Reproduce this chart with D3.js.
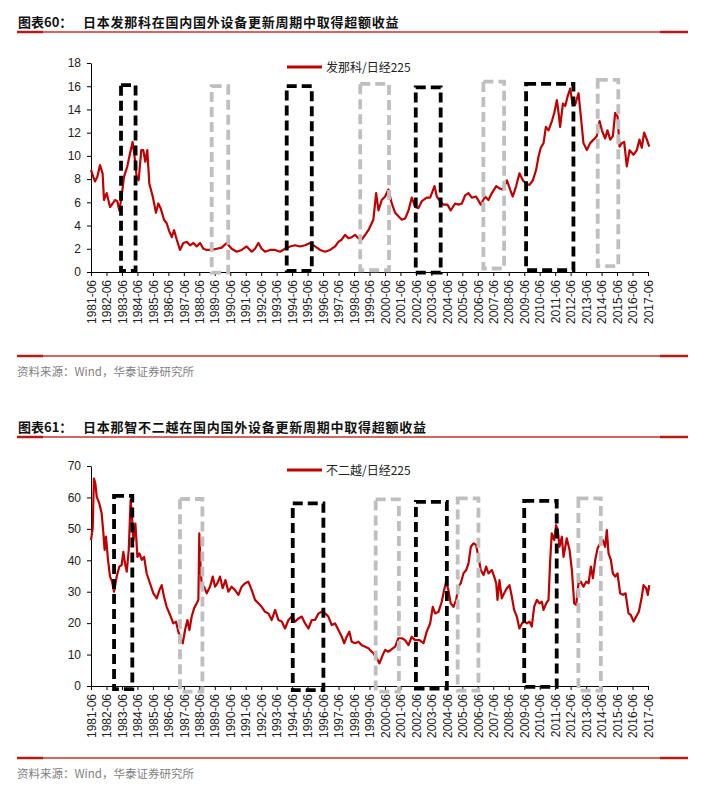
<!DOCTYPE html>
<html><head><meta charset="utf-8">
<script src="https://cdn.jsdelivr.net/npm/d3@7/dist/d3.min.js"></script>
<style>body{margin:0;background:#fff}svg{display:block}</style>
</head><body><svg id="c" width="716" height="796"></svg>
<script>
// ---------- DATA ----------
const tickLabels = ["1981-06","1982-06","1983-06","1984-06","1985-06","1986-06","1987-06","1988-06","1989-06","1990-06","1991-06","1992-06","1993-06","1994-06","1995-06","1996-06","1997-06","1998-06","1999-06","2000-06","2001-06","2002-06","2003-06","2004-06","2005-06","2006-06","2007-06","2008-06","2009-06","2010-06","2011-06","2012-06","2013-06","2014-06","2015-06","2016-06","2017-06"];

const fanucYears = [1981.50,1981.65,1981.76,1981.91,1982.08,1982.25,1982.34,1982.51,1982.73,1982.90,1983.05,1983.20,1983.33,1983.48,1983.63,1983.85,1984.02,1984.19,1984.32,1984.45,1984.58,1984.75,1984.88,1985.01,1985.14,1985.27,1985.49,1985.70,1985.85,1986.00,1986.22,1986.39,1986.56,1986.72,1986.87,1987.04,1987.25,1987.47,1987.69,1987.90,1988.12,1988.33,1988.55,1988.76,1988.98,1989.30,1989.63,1989.95,1990.27,1990.59,1990.92,1991.24,1991.56,1991.89,1992.10,1992.32,1992.53,1992.75,1993.07,1993.40,1993.72,1994.04,1994.37,1994.69,1995.01,1995.34,1995.66,1995.98,1996.31,1996.63,1996.95,1997.28,1997.49,1997.71,1997.92,1998.14,1998.35,1998.57,1998.78,1999.00,1999.22,1999.43,1999.75,1999.93,2000.08,2000.29,2000.51,2000.72,2000.94,2001.16,2001.37,2001.59,2001.80,2002.02,2002.23,2002.45,2002.66,2002.88,2003.20,2003.42,2003.70,2003.85,2004.06,2004.28,2004.54,2004.75,2005.03,2005.25,2005.47,2005.68,2005.90,2006.11,2006.39,2006.69,2006.97,2007.19,2007.41,2007.69,2007.90,2008.12,2008.38,2008.59,2008.76,2008.98,2009.19,2009.41,2009.63,2009.84,2010.06,2010.27,2010.42,2010.57,2010.75,2010.90,2011.07,2011.29,2011.44,2011.61,2011.72,2011.82,2012.00,2012.15,2012.30,2012.47,2012.62,2012.79,2013.01,2013.16,2013.33,2013.55,2013.76,2013.98,2014.19,2014.37,2014.52,2014.73,2014.88,2015.06,2015.23,2015.38,2015.53,2015.66,2015.81,2015.96,2016.13,2016.31,2016.56,2016.78,2016.95,2017.10,2017.25,2017.43,2017.58];
const fanucRatio = [8.8,8.2,7.8,8.2,9.2,8.5,6.2,6.8,5.6,5.9,6.2,6.1,5.3,6.5,8.2,9.1,10.2,11.2,9.9,8.2,7.9,10.5,10.5,9.5,10.5,7.6,6.5,5.1,5.9,5.5,4.5,4.2,3.5,3.0,3.6,2.8,1.9,2.5,2.6,2.3,2.5,2.2,2.5,2.0,1.9,1.9,2.0,2.1,2.5,2.0,1.75,1.9,2.2,1.75,2.0,2.5,2.0,1.75,1.9,1.9,1.75,2.0,2.2,2.3,2.2,2.3,2.5,2.2,1.9,1.75,1.9,2.2,2.6,2.8,3.2,2.9,3.0,3.2,2.9,2.8,3.2,3.6,4.5,6.8,5.3,6.2,6.5,7.1,5.9,5.1,4.8,4.5,4.6,5.3,6.4,5.6,5.5,6.1,6.4,6.4,7.4,6.5,6.1,5.8,5.8,5.3,5.9,5.8,5.9,6.6,6.8,6.4,6.5,5.8,6.5,6.2,6.8,7.4,7.2,7.1,7.9,7.1,6.5,7.4,8.5,7.9,7.6,7.5,7.9,8.8,9.9,10.7,11.1,12.5,12.2,13.0,13.7,14.8,13.7,12.5,14.5,14.3,15.1,15.8,14.5,14.4,15.4,13.4,11.1,10.5,11.1,11.4,11.7,13.0,12.2,11.5,12.2,11.4,11.7,13.7,13.4,10.8,11.1,11.2,9.1,10.5,10.1,10.5,11.4,10.7,12.0,11.4,10.8];

const nachiYears = [1981.50,1981.61,1981.69,1981.78,1981.87,1982.04,1982.19,1982.30,1982.38,1982.47,1982.60,1982.73,1982.86,1982.99,1983.16,1983.33,1983.48,1983.59,1983.70,1983.81,1983.94,1984.06,1984.15,1984.24,1984.37,1984.50,1984.63,1984.78,1984.93,1985.10,1985.31,1985.53,1985.75,1985.92,1986.07,1986.22,1986.39,1986.61,1986.82,1986.99,1987.15,1987.30,1987.43,1987.58,1987.73,1987.86,1988.01,1988.16,1988.33,1988.44,1988.50,1988.59,1988.68,1988.81,1988.98,1989.19,1989.37,1989.52,1989.67,1989.84,1990.01,1990.19,1990.38,1990.59,1990.81,1991.03,1991.24,1991.46,1991.67,1991.89,1992.10,1992.32,1992.53,1992.75,1992.97,1993.18,1993.40,1993.61,1993.83,1994.04,1994.26,1994.47,1994.69,1994.91,1995.12,1995.34,1995.55,1995.77,1995.98,1996.20,1996.41,1996.63,1996.84,1997.06,1997.28,1997.49,1997.71,1997.86,1998.03,1998.20,1998.35,1998.57,1998.78,1999.00,1999.22,1999.43,1999.65,1999.75,1999.97,2000.14,2000.36,2000.51,2000.72,2000.94,2001.16,2001.37,2001.59,2001.80,2002.02,2002.23,2002.45,2002.73,2002.99,2003.20,2003.42,2003.59,2003.74,2003.96,2004.17,2004.32,2004.45,2004.60,2004.75,2004.93,2005.10,2005.25,2005.40,2005.57,2005.75,2005.90,2006.05,2006.22,2006.39,2006.54,2006.69,2006.87,2007.04,2007.19,2007.41,2007.56,2007.69,2007.77,2007.90,2008.05,2008.20,2008.38,2008.55,2008.70,2008.85,2009.02,2009.19,2009.35,2009.50,2009.67,2009.84,2009.99,2010.14,2010.32,2010.49,2010.64,2010.75,2010.92,2011.07,2011.18,2011.28,2011.44,2011.56,2011.67,2011.78,2011.93,2012.04,2012.25,2012.43,2012.58,2012.73,2012.86,2013.01,2013.16,2013.33,2013.50,2013.66,2013.81,2013.94,2014.09,2014.24,2014.41,2014.58,2014.73,2014.84,2014.95,2015.10,2015.23,2015.38,2015.53,2015.70,2015.88,2016.05,2016.24,2016.39,2016.57,2016.74,2016.91,2017.10,2017.21,2017.38,2017.49,2017.58];
const nachiRatio = [46.4,50.2,66.0,64.5,60.2,58.1,54.9,48.6,43.3,47.5,40.1,34.8,33.2,30.0,34.8,38.0,38.5,42.7,39.0,36.4,43.3,59.2,53.9,46.4,51.7,41.1,42.2,40.1,41.1,35.8,32.7,29.5,27.9,30.5,32.1,28.4,25.2,22.6,19.9,20.5,17.3,14.6,13.6,17.8,21.0,17.8,22.1,24.7,26.3,27.4,48.6,36.9,30.5,31.6,29.5,31.6,34.8,31.6,32.7,34.8,31.1,33.7,30.0,31.6,30.5,29.0,31.6,32.7,33.2,30.5,27.4,26.3,25.2,23.6,23.1,21.0,24.2,21.0,20.5,18.3,21.0,22.1,20.5,21.5,22.1,19.9,18.3,21.0,21.0,23.1,23.6,23.1,22.1,19.4,19.9,17.8,15.7,13.6,15.7,17.3,14.1,13.6,14.1,13.0,12.5,12.0,10.9,10.4,8.8,7.2,9.9,11.5,10.9,11.7,12.5,15.2,15.2,14.6,13.0,15.7,14.6,14.6,13.6,17.3,19.9,25.2,23.1,23.6,26.8,30.5,33.2,30.5,26.3,25.2,27.4,31.6,32.7,35.8,36.9,39.0,44.3,45.4,44.9,41.1,36.9,35.3,38.0,35.8,36.9,34.8,32.7,27.4,33.7,27.9,29.5,31.1,32.1,28.4,24.2,22.1,18.3,19.9,20.5,19.9,20.5,18.9,25.2,27.4,26.3,26.8,24.2,26.3,27.4,40.1,48.6,46.4,51.2,49.6,44.3,47.5,41.1,47.0,43.3,36.9,26.3,25.8,32.7,33.2,31.6,33.2,32.7,38.0,34.3,40.1,43.8,45.4,46.4,44.3,49.6,42.2,40.1,35.8,34.8,35.8,29.5,29.0,29.5,23.1,22.6,20.5,22.1,23.6,28.4,32.1,31.1,29.0,32.1];

// cycle windows (decimal year from/to, value top/bottom), kind: domestic = black, overseas = gray
const fanucBoxes = [
  {from:1983.44,to:1984.38,top:16.1,bottom:0.1,kind:"domestic"},
  {from:1994.15,to:1995.77,top:16.0,bottom:0.1,kind:"domestic"},
  {from:2002.49,to:2004.10,top:15.9,bottom:-0.05,kind:"domestic"},
  {from:2009.62,to:2012.68,top:16.2,bottom:0.15,kind:"domestic"},
  {from:1989.30,to:1990.37,top:16.0,bottom:-0.05,kind:"overseas"},
  {from:1998.90,to:2000.76,top:16.2,bottom:0.15,kind:"overseas"},
  {from:2006.86,to:2008.20,top:16.4,bottom:0.3,kind:"overseas"},
  {from:2014.25,to:2015.58,top:16.55,bottom:0.5,kind:"overseas"}
];
const nachiBoxes = [
  {from:1982.99,to:1984.17,top:60.5,bottom:-1.0,kind:"domestic"},
  {from:1994.54,to:1996.52,top:58.1,bottom:-1.3,kind:"domestic"},
  {from:2002.50,to:2004.50,top:58.6,bottom:-0.8,kind:"domestic"},
  {from:2009.50,to:2011.60,top:58.9,bottom:-0.3,kind:"domestic"},
  {from:1987.25,to:1988.70,top:59.5,bottom:-1.8,kind:"overseas"},
  {from:1999.90,to:2001.40,top:59.4,bottom:-1.8,kind:"overseas"},
  {from:2005.20,to:2006.54,top:59.7,bottom:-1.5,kind:"overseas"},
  {from:2013.00,to:2014.45,top:59.7,bottom:-1.5,kind:"overseas"}
];

const fanucTicksY = [0,2,4,6,8,10,12,14,16,18];
const nachiTicksY = [0,10,20,30,40,50,60,70];

// ---------- DRAW ----------
const svg = d3.select("#c");
const RED = "#c00000";
const LINE_RED = "#c8322c";
const CJK = "'Noto Sans CJK SC','Noto Sans',sans-serif";
const LAT = "'Liberation Sans',Arial,sans-serif";

function sectionFrame(titleNum, titleText, lineY, srcLineY){
  const t = svg.append("text").attr("y", lineY-5).attr("font-family", CJK)
    .attr("font-weight", 700).attr("font-size", 13).attr("fill", "#111");
  t.append("tspan").attr("x", 18).text(titleNum);
  t.append("tspan").attr("x", 83).attr("letter-spacing", "0.75px").text(titleText);
  [lineY, srcLineY].forEach(y => {
    svg.append("line").attr("x1",17).attr("x2",688).attr("y1",y).attr("y2",y)
      .attr("stroke", LINE_RED).attr("stroke-width",1.5);
    svg.append("line").attr("x1",17).attr("x2",43).attr("y1",y).attr("y2",y)
      .attr("stroke", "#b51a14").attr("stroke-width",2.5);
    svg.append("line").attr("x1",660).attr("x2",688).attr("y1",y).attr("y2",y)
      .attr("stroke", "#b51a14").attr("stroke-width",2.5);
  });
  svg.append("text").attr("x",17).attr("y",srcLineY+20).attr("font-family",CJK)
    .attr("font-size",11.5).attr("fill","#7f7f7f").text("资料来源：Wind，华泰证券研究所");
}

function panel(opts){
  const x = d3.scaleLinear().domain([1981.5, 2017.5]).range([91, 648]);
  const y = d3.scaleLinear().domain([0, opts.ymax]).range([opts.y0, opts.yTop]);
  const g = svg.append("g");

  // y axis
  const ya = g.append("g").attr("transform","translate(91,0)")
    .call(d3.axisLeft(y).tickValues(opts.yticks).tickSize(4).tickSizeOuter(0).tickPadding(6));
  ya.selectAll("text").attr("font-family",LAT).attr("font-size",12).attr("fill","#222");
  ya.selectAll("path,line").attr("stroke","#000");

  // x axis
  const xa = g.append("g").attr("transform",`translate(0,${opts.y0})`)
    .call(d3.axisBottom(x).tickValues(tickLabels.map((d,i)=>1981.5+i))
      .tickFormat((d,i)=>tickLabels[i]).tickSize(4).tickSizeOuter(0));
  xa.selectAll("path,line").attr("stroke","#000");
  xa.selectAll("text").attr("font-family",LAT).attr("font-size",12).attr("fill","#222")
    .attr("transform","rotate(-90)").attr("x",-8).attr("y",0).attr("dy","0.35em")
    .style("text-anchor","end");

  // series line
  const pts = opts.years.map((d,i)=>[d, opts.values[i]]);
  g.append("path").datum(pts)
    .attr("d", d3.line().x(d=>x(d[0])).y(d=>y(d[1])))
    .attr("fill","none").attr("stroke",RED).attr("stroke-width",2.2)
    .attr("stroke-linejoin","round");

  // cycle boxes
  g.selectAll("rect.box").data(opts.boxes).join("rect")
    .attr("x", d=>x(d.from)).attr("width", d=>x(d.to)-x(d.from))
    .attr("y", d=>y(d.top)).attr("height", d=>y(d.bottom)-y(d.top))
    .attr("fill","none")
    .attr("stroke", d=>d.kind==="domestic" ? "#000" : "#bfbfbf")
    .attr("stroke-width", 3.8)
    .attr("stroke-dasharray", "10,5");

  // legend
  g.append("line").attr("x1",287).attr("x2",322).attr("y1",opts.yTop+4).attr("y2",opts.yTop+4)
    .attr("stroke",RED).attr("stroke-width",3.2);
  g.append("text").attr("x",326).attr("y",opts.yTop+8.5).attr("font-family",CJK)
    .attr("font-size",12).attr("fill","#222").text(opts.legend);
}

sectionFrame("图表60：", "日本发那科在国内国外设备更新周期中取得超额收益", 32, 356);
panel({ymax:18, y0:272, yTop:63, yticks:fanucTicksY, years:fanucYears, values:fanucRatio,
       boxes:fanucBoxes, legend:"发那科/日经225"});

sectionFrame("图表61：", "日本那智不二越在国内国外设备更新周期中取得超额收益", 437, 758);
panel({ymax:70, y0:686, yTop:466, yticks:nachiTicksY, years:nachiYears, values:nachiRatio,
       boxes:nachiBoxes, legend:"不二越/日经225"});
</script></body></html>
